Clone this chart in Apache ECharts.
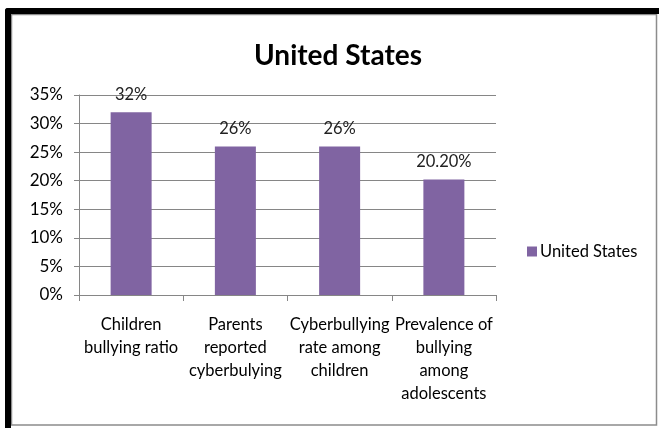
<!DOCTYPE html>
<html>
<head>
<meta charset="utf-8">
<script src="https://cdn.jsdelivr.net/npm/echarts@6/dist/echarts.min.js"></script>
<style>
  html, body { margin: 0; padding: 0; background: #fff; }
  #chart { width: 659px; height: 428px; }
</style>
</head>
<body>
<div id="chart"></div>
<script>
// Bullying statistics, United States
const categories = [
  'Children\nbullying ratio',
  'Parents\nreported\ncyberbulying',
  'Cyberbullying\nrate among\nchildren',
  'Prevalence of\nbullying\namong\nadolescents'
];
const values = [32, 26, 26, 20.2];
const valueLabels = ['32%', '26%', '26%', '20.20%'];
const yTicks = [0, 5, 10, 15, 20, 25, 30, 35];
const seriesName = 'United States';

const FONT = 'Lato, "Open Sans", sans-serif';
const AXIS_GRAY = '#868686';

const chart = echarts.init(document.getElementById('chart'), null, { renderer: 'canvas' });

chart.setOption({
  backgroundColor: '#fff',
  animation: false,
  title: {
    text: 'United States',
    left: 333,
    top: 37,
    textAlign: 'center',
    textStyle: { fontFamily: FONT, fontSize: 28, fontWeight: 'bold', color: '#000' }
  },
  legend: {
    data: [seriesName],
    left: 522,
    top: 238,
    icon: 'rect',
    itemWidth: 10,
    itemHeight: 10,
    itemGap: 4,
    textStyle: { fontFamily: FONT, fontSize: 16.5, color: '#000', padding: [0, 0, 0, -2] }
  },
  grid: { left: 79, right: 163, top: 95, bottom: 133, containLabel: false },
  xAxis: {
    type: 'category',
    data: categories,
    axisLine: { lineStyle: { color: AXIS_GRAY, width: 1 } },
    axisTick: { show: true, length: 6, lineStyle: { color: AXIS_GRAY } },
    axisLabel: {
      fontFamily: FONT, fontSize: 16.5, color: '#000',
      lineHeight: 23, margin: 18, interval: 0, align: 'center'
    }
  },
  yAxis: {
    type: 'value',
    min: yTicks[0],
    max: yTicks[yTicks.length - 1],
    interval: yTicks[1] - yTicks[0],
    axisLine: { show: true, lineStyle: { color: AXIS_GRAY, width: 1 } },
    axisTick: { show: true, length: 5, lineStyle: { color: AXIS_GRAY } },
    splitLine: { lineStyle: { color: AXIS_GRAY, width: 1 } },
    axisLabel: {
      fontFamily: FONT, fontSize: 17, color: '#000', margin: 16,
      formatter: v => v + '%'
    }
  },
  series: [{
    name: seriesName,
    type: 'bar',
    data: values,
    barWidth: 41,
    itemStyle: { color: '#8064A2' },
    label: {
      show: true,
      position: 'top',
      distance: 9,
      fontFamily: FONT, fontSize: 16.5, color: '#222',
      formatter: p => valueLabels[p.dataIndex]
    }
  }],
  graphic: [
    // thin gray chart-area border
    { type: 'rect', shape: { x: 11.5, y: 14.5, width: 645, height: 410.5 },
      style: { fill: null, stroke: '#8c8c8c', lineWidth: 1.5 }, z: 10 },
    // heavy black frame on top and left
    { type: 'rect', shape: { x: 5, y: 8, width: 654, height: 6, r: [3, 0, 0, 0] },
      style: { fill: '#000' }, z: 11 },
    { type: 'rect', shape: { x: 5, y: 8, width: 6, height: 420, r: [3, 0, 0, 0] },
      style: { fill: '#000' }, z: 11 }
  ]
});
</script>
</body>
</html>
